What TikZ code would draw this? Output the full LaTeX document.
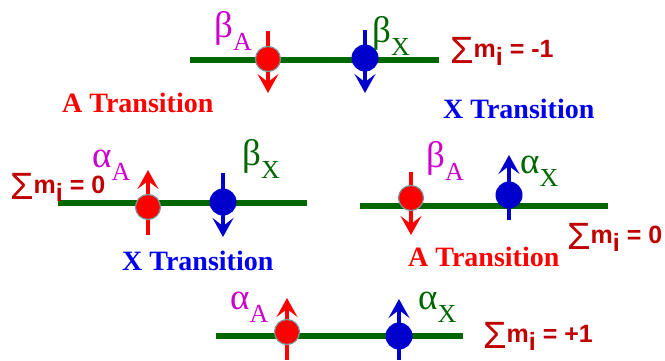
\documentclass[tikz,border=0pt]{standalone}
\usepackage{fontspec}
\setmainfont{Liberation Serif}
\newfontfamily\sumfont{Liberation Sans}
\usepackage{tikz}
\usetikzlibrary{arrows.meta, positioning}
\definecolor{levelgreen}{RGB}{0, 102, 0}
\definecolor{spinred}{RGB}{255, 0, 0}
\definecolor{spinblue}{RGB}{0, 0, 204}
\definecolor{textblue}{RGB}{0, 0, 240}
\definecolor{labmag}{RGB}{204, 0, 204}
\definecolor{sumred}{RGB}{192, 0, 0}
\definecolor{ringgrey}{RGB}{120, 150, 150}
\newcommand{\spinlab}[2]{\fontsize{37}{37}\selectfont #1\raisebox{-13pt}{\fontsize{26}{26}\selectfont #2}}
\newcommand{\msum}[1]{{\sumfont\raisebox{-6pt}{\fontsize{38}{38}\selectfont Σ}\fontsize{25}{25}\selectfont\textbf{m}\raisebox{-8pt}{\textbf{i}} \textbf{= #1}}}

\begin{document}
\begin{tikzpicture}[
    x=1pt, y=-1pt,
    level/.style={line width=6pt, draw=levelgreen},
    nucA/.style={circle, fill=spinred, draw=ringgrey, line width=1.2pt,
                 minimum size=25pt, inner sep=0pt},
    nucX/.style={circle, fill=spinblue, minimum size=27pt, inner sep=0pt},
    spinA/.style={-{Stealth[length=19pt,width=21pt,inset=8pt]},
                  line width=4.5pt, draw=spinred},
    spinX/.style={-{Stealth[length=19pt,width=21pt,inset=8pt]},
                  line width=4.5pt, draw=spinblue},
    glab/.style={anchor=base west, inner sep=0pt},
    trans/.style={anchor=base west, inner sep=0pt,
                  font=\fontsize{28}{28}\selectfont\bfseries},
    sumlab/.style={anchor=base west, inner sep=0pt, text=sumred},
]
    \useasboundingbox (0,0) rectangle (665,360);

    % energy levels
    \draw[level] (190,60) -- (439,60);
    \draw[level] (58,203) -- (307,203);
    \draw[level] (360,206) -- (608,206);
    \draw[level] (216,336) -- (463,336);

    % spins
    \coordinate (a1) at (268,59);
    \coordinate (x1) at (365,58);
    \coordinate (a2) at (148,207);
    \coordinate (x2) at (223,202);
    \coordinate (a3) at (411,198);
    \coordinate (x3) at (509,195);
    \coordinate (a4) at (287,332);
    \coordinate (x4) at (399,336);
    \draw[spinA] ([yshift=28pt]a1) -- ([yshift=-34pt]a1);
    \draw[spinX] ([yshift=28pt]x1) -- ([yshift=-35pt]x1);
    \draw[spinA] ([yshift=-28pt]a2) -- ([yshift=37pt]a2);
    \draw[spinX] ([yshift=29pt]x2) -- ([yshift=-35pt]x2);
    \draw[spinA] ([yshift=26pt]a3) -- ([yshift=-37pt]a3);
    \draw[spinX] ([yshift=-25pt]x3) -- ([yshift=40pt]x3);
    \draw[spinA] ([yshift=-28pt]a4) -- ([yshift=34pt]a4);
    \draw[spinX] ([yshift=-24pt]x4) -- ([yshift=37pt]x4);

    % nuclei
    \node[nucA] (na1) at (a1) {};
    \node[nucX] (nx1) at (x1) {};
    \node[nucA] (na2) at (a2) {};
    \node[nucX] (nx2) at (x2) {};
    \node[nucA] (na3) at (a3) {};
    \node[nucX] (nx3) at (x3) {};
    \node[nucA] (na4) at (a4) {};
    \node[nucX] (nx4) at (x4) {};

    % spin labels
    \node[glab, text=labmag] (bA1) at (214,37) {\spinlab{β}{A}};
    \node[glab, text=levelgreen] (bX1) at (372,42) {\spinlab{β}{X}};
    \node[glab, text=labmag] (aA2) at (92,167) {\spinlab{α}{A}};
    \node[glab, text=levelgreen] (bX2) at (242,165) {\spinlab{β}{X}};
    \node[glab, text=labmag] (bA3) at (426,167) {\spinlab{β}{A}};
    \node[glab, text=levelgreen] (aX3) at (520,173) {\spinlab{α}{X}};
    \node[glab, text=labmag] (aA4) at (230,309) {\spinlab{α}{A}};
    \node[glab, text=levelgreen] (aX4) at (418,309) {\spinlab{α}{X}};

    % sums
    \node[sumlab] (s1) at (450,57) {\msum{-1}};
    \node[sumlab] (s2) at (10,193) {\msum{0}};
    \node[sumlab] (s3) at (567,243) {\msum{0}};
    \node[sumlab] (s4) at (483,342) {\msum{+1}};

    % transitions
    \node[trans, text=spinred] (t1) at (62,112) {A Transition};
    \node[trans, text=textblue] (t2) at (443,118) {X Transition};
    \node[trans, text=textblue] (t3) at (122,270) {X Transition};
    \node[trans, text=spinred] (t4) at (408,266) {A Transition};
\end{tikzpicture}
\end{document}
